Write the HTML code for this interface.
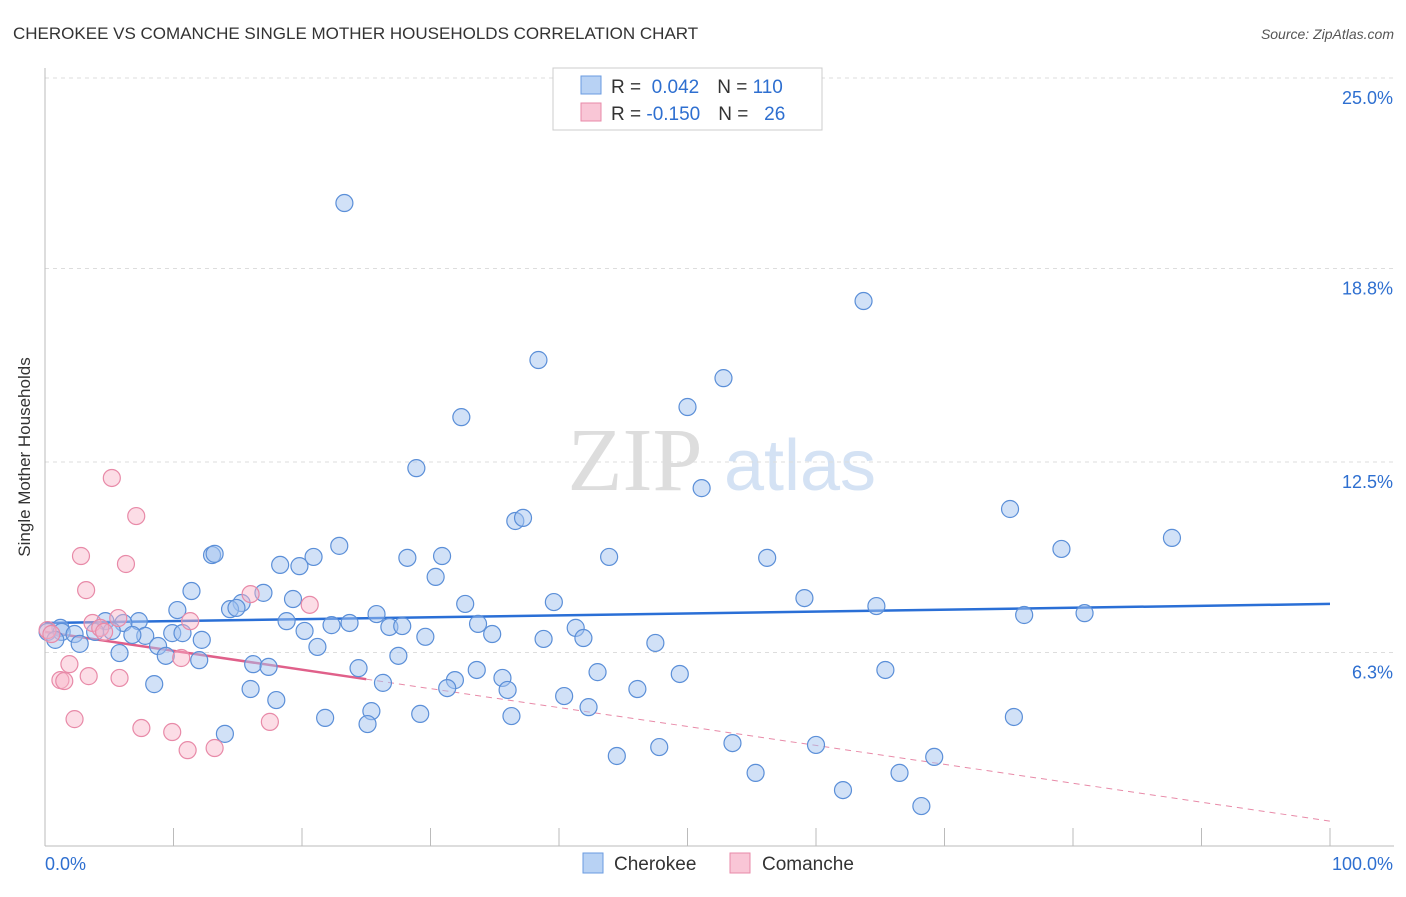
<!DOCTYPE html>
<html><head><meta charset="utf-8"><style>
body{margin:0;background:#fff;font-family:"Liberation Sans",sans-serif;}
</style></head><body>
<svg width="1406" height="892" xmlns="http://www.w3.org/2000/svg" font-family="Liberation Sans, sans-serif">
<text x="13" y="39" font-size="17" fill="#333">CHEROKEE VS COMANCHE SINGLE MOTHER HOUSEHOLDS CORRELATION CHART</text>
<text x="1394" y="39" font-size="14" fill="#555" text-anchor="end" font-style="italic">Source: ZipAtlas.com</text>
<text x="30" y="457" font-size="17" fill="#333" text-anchor="middle" transform="rotate(-90 30 457)">Single Mother Households</text>
<g><text x="635" y="490" font-size="90" fill="#ddd" text-anchor="middle" font-family="Liberation Serif, serif">ZIP</text><text x="800" y="490" font-size="72" fill="#d4e2f4" text-anchor="middle">atlas</text></g>
<g id="grid"></g><g id="axes"></g><g id="trends"></g><g id="pts"></g>
<g>
<rect x="553" y="68" width="269" height="62" fill="#fff" stroke="#ccc"/>
<rect x="581" y="76" width="20" height="18" fill="#b8d2f4" stroke="#6a9be0"/>
<rect x="581" y="103" width="20" height="18" fill="#f9c6d6" stroke="#e88aa8"/>
<text x="611" y="93" font-size="19" fill="#333">R = <tspan fill="#2e6fd0">&#160;0.042</tspan><tspan dx="18">N = </tspan><tspan fill="#2e6fd0">110</tspan></text>
<text x="611" y="120" font-size="19" fill="#333">R = <tspan fill="#2e6fd0">-0.150</tspan><tspan dx="18">N = </tspan><tspan fill="#2e6fd0">&#160;&#160;26</tspan></text>
</g>
<g>
<rect x="583" y="853" width="20" height="20" fill="#b8d2f4" stroke="#6a9be0"/>
<text x="614" y="870" font-size="19" fill="#333">Cherokee</text>
<rect x="730" y="853" width="20" height="20" fill="#f9c6d6" stroke="#e88aa8"/>
<text x="762" y="870" font-size="19" fill="#333">Comanche</text>
</g>
<text x="45" y="870" font-size="18" fill="#2e6fd0">0.0%</text>
<text x="1393" y="870" font-size="18" fill="#2e6fd0" text-anchor="end">100.0%</text>
</svg>
<script>
const yTicks=[25.0,18.8,12.5,6.3];
const yTickLabels=["25.0%","18.8%","12.5%","6.3%"];
const cherokeeX=[23.3,63.7,38.4,52.8,50.0,32.4,28.9,51.1,36.6,37.2,75.1,87.7,79.1,22.9,13.0,13.2,20.9,18.3,19.8,28.2,30.9,43.9,56.2,30.4,11.4,17.0,19.3,15.3,14.4,14.9,10.3,32.7,39.6,59.1,64.7,76.2,80.9,4.7,7.3,6.1,18.8,22.3,23.7,25.8,26.8,27.8,33.7,41.3,1.2,0.2,1.3,2.3,3.9,5.2,7.8,6.8,9.9,10.7,20.2,12.2,29.6,34.8,38.8,41.9,47.5,0.8,2.7,8.8,9.4,5.8,21.2,12.0,16.2,17.4,27.5,24.4,33.6,43.0,49.4,65.4,31.9,26.3,35.6,8.5,16.0,31.3,36.0,46.1,40.4,18.0,42.3,25.4,29.2,21.8,36.3,75.4,25.1,14.0,47.8,53.5,60.0,44.5,69.2,55.3,66.5,62.1,68.2,48.0];
const cherokeeY=[20.93,17.74,15.82,15.23,14.29,13.96,12.30,11.65,10.58,10.68,10.97,10.03,9.67,9.77,9.47,9.51,9.41,9.15,9.11,9.38,9.44,9.41,9.38,8.76,8.30,8.24,8.04,7.91,7.71,7.75,7.68,7.88,7.94,8.07,7.81,7.52,7.58,7.32,7.32,7.26,7.32,7.19,7.26,7.55,7.13,7.16,7.23,7.10,7.10,6.97,6.97,6.90,6.97,7.00,6.84,6.87,6.93,6.93,7.00,6.71,6.81,6.90,6.74,6.77,6.61,6.71,6.58,6.51,6.19,6.28,6.48,6.05,5.92,5.83,6.19,5.79,5.73,5.66,5.60,5.73,5.40,5.31,5.47,5.27,5.11,5.14,5.08,5.11,4.88,4.75,4.52,4.39,4.30,4.17,4.23,4.20,3.97,3.65,3.22,3.35,3.29,2.93,2.90,2.38,2.38,1.82,1.30,25.0];
const comancheX=[5.2,7.1,2.8,6.3,3.2,16.0,20.6,11.3,3.7,5.7,4.3,4.6,0.2,0.5,1.9,10.6,1.2,1.5,3.4,5.8,2.3,7.5,9.9,17.5,11.1,13.2];
const comancheY=[11.98,10.74,9.44,9.18,8.33,8.20,7.85,7.32,7.26,7.42,7.10,6.97,7.03,6.90,5.92,6.12,5.40,5.37,5.53,5.47,4.13,3.84,3.71,4.04,3.12,3.19];
const cherokeeTrend=[7.26,7.88];
const comancheTrend=[6.97,0.81];
const comancheSolidEnd=25;
const NS="http://www.w3.org/2000/svg";
const X0=45,X1=1330,YT=78,YB=846;
function sx(v){return X0+v/100*(X1-X0);}
function sy(v){return YB-v/25*(YB-YT);}
function mk(tag,attrs,parent){const e=document.createElementNS(NS,tag);for(const k in attrs)e.setAttribute(k,attrs[k]);document.getElementById(parent).appendChild(e);return e;}
yTicks.forEach((t,i)=>{
 const l=mk('line',{x1:45,x2:1394,y1:sy(t),y2:sy(t),stroke:'#ddd','stroke-dasharray':'4,4'},'grid');
 
 
 const tx=mk('text',{x:1393,y:sy(t)+26,'font-size':18,fill:'#2e6fd0','text-anchor':'end'},'grid');
 tx.textContent=yTickLabels[i];
 
 
});
const ax=mk('line',{x1:45,x2:45,y1:68,y2:846,stroke:'#bbb'},'axes');


const xa=mk('line',{x1:45,x2:1394,y1:846,y2:846,stroke:'#bbb'},'axes');


for(let i=0;i<=10;i++){
 const t=mk('line',{x1:sx(i*10),x2:sx(i*10),y1:828,y2:846,stroke:'#bbb'},'axes');
 
 
}
function drawPts(xs,ys,fill,stroke,name){
 xs.forEach((x,i)=>{
  const c=mk('circle',{cx:sx(x),cy:sy(ys[i]),r:8.5,fill:fill,stroke:stroke,'stroke-width':1.2},'pts');
  
  
 });
}
drawPts(cherokeeX,cherokeeY,'rgba(164,196,240,0.5)','#5b8fd8','cherokee-point');
drawPts(comancheX,comancheY,'rgba(248,180,200,0.45)','#e88aa8','comanche-point');
const bt=mk('line',{x1:sx(0),y1:sy(cherokeeTrend[0]),x2:sx(100),y2:sy(cherokeeTrend[1]),stroke:'#2a6fd6','stroke-width':2.5},'trends');


const pm=comancheTrend[0]+(comancheTrend[1]-comancheTrend[0])*comancheSolidEnd/100;
const pt=mk('line',{x1:sx(0),y1:sy(comancheTrend[0]),x2:sx(comancheSolidEnd),y2:sy(pm),stroke:'#e0608a','stroke-width':2.5},'trends');


const pd=mk('line',{x1:sx(comancheSolidEnd),y1:sy(pm),x2:sx(100),y2:sy(comancheTrend[1]),stroke:'#e88aa8','stroke-width':1,'stroke-dasharray':'6,5'},'trends');


</script>
</body></html>
